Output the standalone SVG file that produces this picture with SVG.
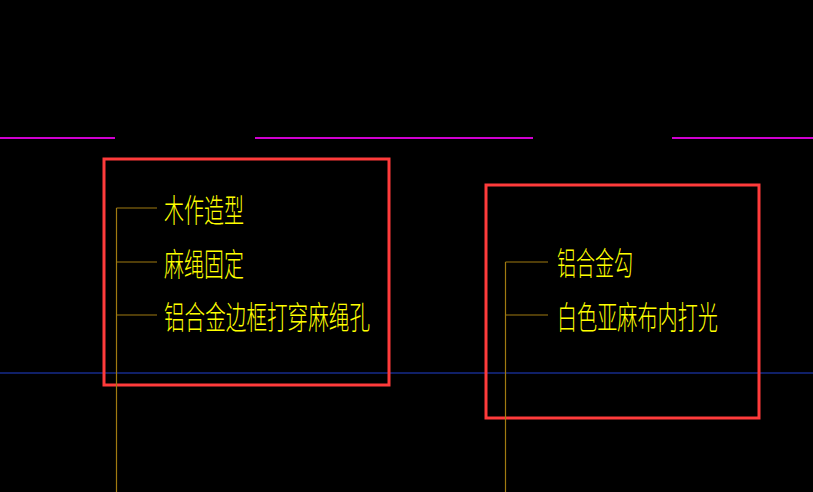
<svg xmlns="http://www.w3.org/2000/svg" width="813" height="492" viewBox="0 0 813 492">
<style>
.t{font-family:"Noto Sans CJK SC",sans-serif;font-size:32px;font-weight:300;fill:#ffff00}
.m{stroke:#d000d0;stroke-width:2}
.b{fill:none;stroke:#ff3b3b;stroke-width:3}
.l{stroke:#a07a10;stroke-width:1.2;fill:none}
</style>
<rect width="813" height="492" fill="#000"/>
<g id="guides">
<line class="m" x1="0" y1="138" x2="115" y2="138"/>
<line class="m" x1="255" y1="138" x2="533" y2="138"/>
<line class="m" x1="672" y1="138" x2="813" y2="138"/>
<line x1="0" y1="373" x2="813" y2="373" stroke="#2040d0" stroke-width="1"/>
</g>
<g id="box-left"><rect class="b" x="104" y="159" width="285" height="226"/></g>
<g id="box-right"><rect class="b" x="486" y="185" width="273" height="233"/></g>
<g id="connectors">
<path class="l" d="M116.5,208 V492 M116.5,208 H157 M116.5,262 H157 M116.5,315 H157"/>
<path class="l" d="M505.5,262 V492 M505.5,262 H548 M505.5,315 H548"/>
</g>
<g id="labels-left">
<text class="t" x="164" y="222" textLength="80" lengthAdjust="spacingAndGlyphs">木作造型</text>
<text class="t" x="164" y="276" textLength="80" lengthAdjust="spacingAndGlyphs">麻绳固定</text>
<text class="t" x="164" y="329" textLength="206" lengthAdjust="spacingAndGlyphs">铝合金边框打穿麻绳孔</text>
</g>
<g id="labels-right">
<text class="t" x="557" y="275" textLength="76" lengthAdjust="spacingAndGlyphs">铝合金勾</text>
<text class="t" x="557" y="329" textLength="161" lengthAdjust="spacingAndGlyphs">白色亚麻布内打光</text>
</g>
</svg>
